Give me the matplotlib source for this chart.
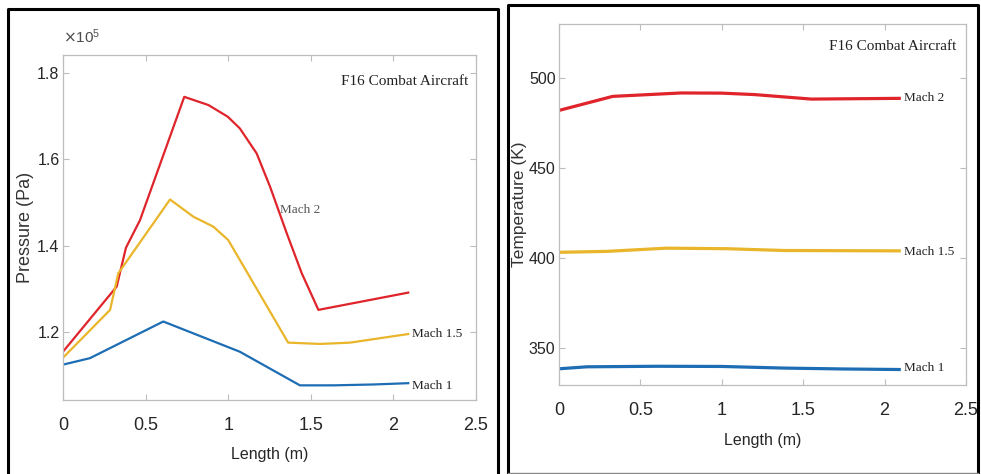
import matplotlib
matplotlib.use("Agg")
import matplotlib.pyplot as plt
from matplotlib import font_manager
from matplotlib.lines import Line2D

# --- data ---
# pressure panel (values in 1e5 Pa)
len_p_m2 = [0, 0.325, 0.381, 0.466, 0.734, 0.88, 0.997, 1.07, 1.172, 1.253, 1.354, 1.445, 1.546, 2.09]
p_m2 = [1.154, 1.305, 1.395, 1.459, 1.745, 1.726, 1.699, 1.672, 1.614, 1.537, 1.429, 1.336, 1.251, 1.291]
len_p_m15 = [0, 0.285, 0.335, 0.648, 0.789, 0.91, 1.0, 1.363, 1.555, 1.737, 2.09]
p_m15 = [1.14, 1.251, 1.336, 1.507, 1.467, 1.444, 1.413, 1.175, 1.172, 1.175, 1.195]
len_p_m1 = [0, 0.163, 0.607, 1.07, 1.434, 1.64, 1.88, 2.09]
p_m1 = [1.124, 1.139, 1.224, 1.154, 1.076, 1.076, 1.078, 1.081]

# temperature panel (K)
len_t_m2 = [0, 0.33, 0.75, 1.0, 1.2, 1.55, 2.09]
t_m2 = [482.0, 489.8, 491.7, 491.6, 490.8, 488.3, 488.7]
len_t_m15 = [0, 0.29, 0.66, 1.03, 1.38, 2.09]
t_m15 = [403.2, 403.7, 405.5, 405.2, 404.2, 404.0]
len_t_m1 = [0, 0.17, 0.6, 1.0, 1.38, 1.75, 2.09]
t_m1 = [338.5, 339.6, 339.9, 339.8, 338.9, 338.4, 338.1]

x_ticks = [0, 0.5, 1, 1.5, 2, 2.5]
x_ticklabels = ["0", "0.5", "1", "1.5", "2", "2.5"]
p_ticks = [1.2, 1.4, 1.6, 1.8]
t_ticks = [350, 400, 450, 500]

RED = "#e0242b"
YEL = "#e9b52a"
BLU = "#1c6db4"

names = {f.name for f in font_manager.fontManager.ttflist}
sans = "Liberation Sans" if "Liberation Sans" in names else "DejaVu Sans"
serif = "Liberation Serif" if "Liberation Serif" in names else "DejaVu Serif"

W, H = 981, 474
fig = plt.figure(figsize=(W / 100, H / 100), dpi=100)


def px_axes(x0, x1, ytop, ybot):
    return fig.add_axes([x0 / W, (H - ybot) / H, (x1 - x0) / W, (ybot - ytop) / H])


def style(ax):
    for s in ax.spines.values():
        s.set_color("#bdbdbd")
        s.set_linewidth(0.9)
    ax.tick_params(direction="in", length=4, width=0.8, color="#bdbdbd",
                   top=True, right=True, labelcolor="#262626")
    ax.tick_params(axis="x", pad=12, labelsize=13)
    ax.tick_params(axis="y", pad=2.5, labelsize=11.5)
    ax.set_xlim(0, 2.5)
    ax.set_xticks(x_ticks)
    ax.set_xticklabels(x_ticklabels)
    for lab in ax.get_xticklabels() + ax.get_yticklabels():
        lab.set_fontfamily(sans)
    ax.set_xlabel("Length (m)", fontfamily=sans, fontsize=11.5, color="#262626")


# --- left: pressure ---
ax1 = px_axes(63, 476, 55, 400)
ax1.plot(len_p_m2, p_m2, color=RED, lw=1.6)
ax1.plot(len_p_m15, p_m15, color=YEL, lw=1.6)
ax1.plot(len_p_m1, p_m1, color=BLU, lw=1.6)
ax1.set_ylim(1.042, 1.842)
ax1.set_yticks(p_ticks)
ax1.set_yticklabels(["1.2", "1.4", "1.6", "1.8"])
style(ax1)
ax1.set_ylabel("Pressure (Pa)", fontfamily=sans, fontsize=13, color="#333333")
ax1.yaxis.set_label_coords(-0.07, 0.5)
ax1.xaxis.set_label_coords(0.5, -0.135)
ax1.text(0.0, 1.025, r"$\times\mathregular{10^5}$", transform=ax1.transAxes,
         fontfamily=sans, fontsize=11, color="#4d4d4d", ha="left", va="bottom")
ax1.text(2.455, 1.78, "F16 Combat Aircraft", fontfamily=serif, fontsize=11,
         ha="right", va="center", color="#222222")
ax1.text(1.314, 1.483, "Mach 2", fontfamily=serif, fontsize=9.5, ha="left",
         va="center", color="#555555")
ax1.text(2.11, 1.195, "Mach 1.5", fontfamily=serif, fontsize=9.5, ha="left",
         va="center", color="#222222")
ax1.text(2.11, 1.075, "Mach 1", fontfamily=serif, fontsize=9.5, ha="left",
         va="center", color="#222222")

# --- right: temperature ---
ax2 = px_axes(559, 966, 24, 385)
ax2.plot(len_t_m2, t_m2, color=RED, lw=2.3)
ax2.plot(len_t_m15, t_m15, color=YEL, lw=2.3)
ax2.plot(len_t_m1, t_m1, color=BLU, lw=2.3)
ax2.set_ylim(329.5, 530)
ax2.set_yticks(t_ticks)
ax2.set_yticklabels([str(t) for t in t_ticks])
style(ax2)
ax2.set_ylabel("Temperature (K)", fontfamily=sans, fontsize=12.5, color="#333333")
ax2.yaxis.set_label_coords(-0.079, 0.5)
ax2.xaxis.set_label_coords(0.5, -0.133)
ax2.text(2.44, 517.6, "F16 Combat Aircraft", fontfamily=serif, fontsize=11,
         ha="right", va="center", color="#222222")
ax2.text(2.12, 488.9, "Mach 2", fontfamily=serif, fontsize=9.5, ha="left",
         va="center", color="#222222")
ax2.text(2.12, 403.5, "Mach 1.5", fontfamily=serif, fontsize=9.5, ha="left",
         va="center", color="#222222")
ax2.text(2.12, 339.0, "Mach 1", fontfamily=serif, fontsize=9.5, ha="left",
         va="center", color="#222222")


# --- black frames around each panel ---
def fline(xs, ys, **kw):
    fig.add_artist(Line2D([x / W for x in xs], [(H - y) / H for y in ys],
                          transform=fig.transFigure, **kw))


fline([8, 8, 498, 498], [480, 9, 9, 480], color="black", lw=2.2)
fline([508, 508, 978, 978], [473, 5, 5, 473], color="black", lw=2.2)
fline([508, 978], [472.5, 472.5], color="#888888", lw=1.0)

fig.savefig("out.png", dpi=100)
